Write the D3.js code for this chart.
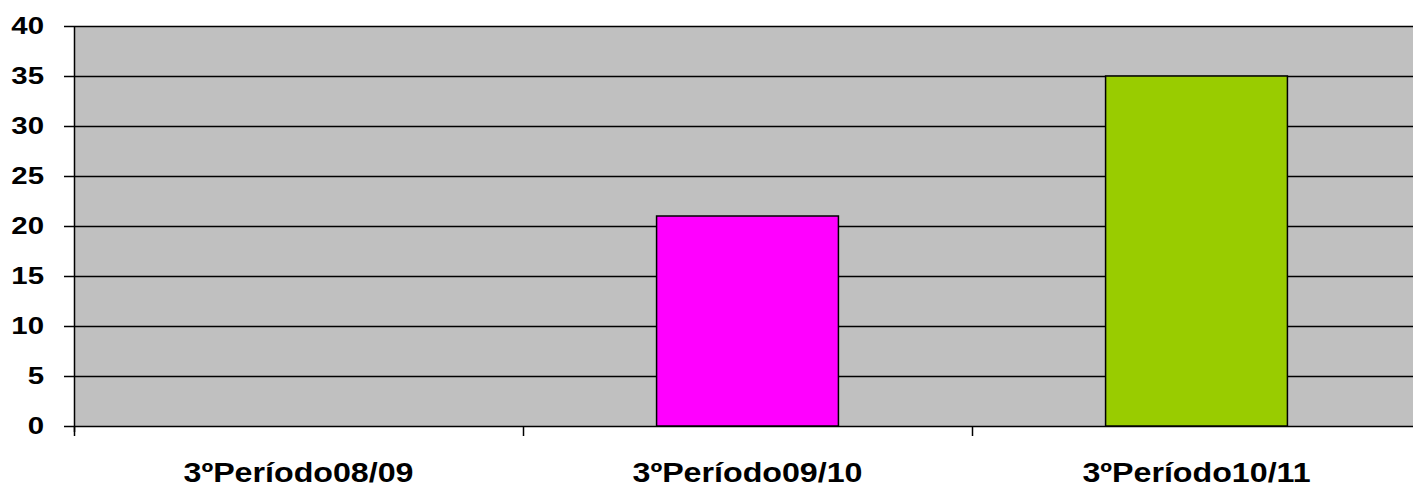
<!DOCTYPE html>
<html>
<head>
<meta charset="utf-8">
<script src="https://d3js.org/d3.v7.min.js"></script>
<style>
body { margin: 0; background: #fff; }
text { font-family: "Liberation Sans", Arial, sans-serif; font-weight: bold; fill: #000; }
</style>
</head>
<body>
<div id="chart"></div>
<script>
// 数据
var categories = ["3ºPeríodo08/09", "3ºPeríodo09/10", "3ºPeríodo10/11"];
var values = [0, 21, 35];
var colors = ["#9999FF", "#FF00FF", "#99CC00"];
var yTicks = [0, 5, 10, 15, 20, 25, 30, 35, 40];

drawchart()

function drawchart() {
	var W = 1413, H = 488;
	var margin = { top: 26, right: -8, bottom: 62, left: 74 };
	var width = W - margin.left - margin.right;
	var height = H - margin.top - margin.bottom;

	var svg = d3.select("#chart")
		.append("svg")
		.attr("width", W)
		.attr("height", H);
	var g = svg.append("g")
		.attr("transform", `translate(${margin.left},${margin.top})`);

	var x = d3.scaleBand()
		.domain(categories)
		.range([0, width])
		.paddingInner(0.595)
		.paddingOuter(0.2975);
	var xb = d3.scaleBand().domain(categories).range([0, width]);
	var y = d3.scaleLinear().domain([0, 40]).range([height, 0]);

	// 背景
	g.append("rect")
		.attr("width", width)
		.attr("height", height)
		.style("fill", "#C0C0C0");

	// 网格线
	g.selectAll(".grid")
		.data(yTicks)
		.join("line")
		.attr("class", "grid")
		.attr("x1", 0).attr("x2", width)
		.attr("y1", d => Math.round(y(d)) + 0.5)
		.attr("y2", d => Math.round(y(d)) + 0.5)
		.style("stroke", "#000")
		.style("stroke-width", 1.5);

	// 柱子
	g.selectAll(".bar")
		.data(values)
		.join("rect")
		.attr("class", "bar")
		.attr("x", (d, i) => x(categories[i]))
		.attr("y", d => y(d))
		.attr("width", x.bandwidth())
		.attr("height", d => height - y(d))
		.style("fill", (d, i) => colors[i])
		.style("stroke", d => d > 0 ? "#000" : "none")
		.style("stroke-width", 1.5);

	// y 轴
	var sy = 1.2;
	var yAxis = g.append("g")
		.call(d3.axisLeft(y).tickValues(yTicks).tickSize(10).tickPadding(20));
	yAxis.select(".domain").attr("d", `M0.5,${height + 6}V0`).style("stroke-width", 1.5);
	yAxis.selectAll(".tick line").style("stroke-width", 1.5);
	yAxis.selectAll("text")
		.style("font-size", "24.5px")
		.attr("x", -30 / sy)
		.attr("dy", "0.3em")
		.attr("transform", `scale(${sy},1)`);

	// x 轴
	var sx = 1.15;
	var xAxis = g.append("g")
		.attr("transform", `translate(0,${height})`);
	xAxis.selectAll(".xtick")
		.data(categories)
		.join("line")
		.attr("x1", d => Math.round(xb(d)) + 0.5)
		.attr("x2", d => Math.round(xb(d)) + 0.5)
		.attr("y1", 0).attr("y2", 10)
		.style("stroke", "#000")
		.style("stroke-width", 1.5);
	xAxis.selectAll(".xlabel")
		.data(categories)
		.join("text")
		.attr("x", d => (xb(d) + xb.bandwidth() / 2) / sx)
		.attr("y", 56)
		.attr("transform", `scale(${sx},1)`)
		.style("text-anchor", "middle")
		.style("font-size", "28px")
		.text(d => d);
}
</script>
</body>
</html>
